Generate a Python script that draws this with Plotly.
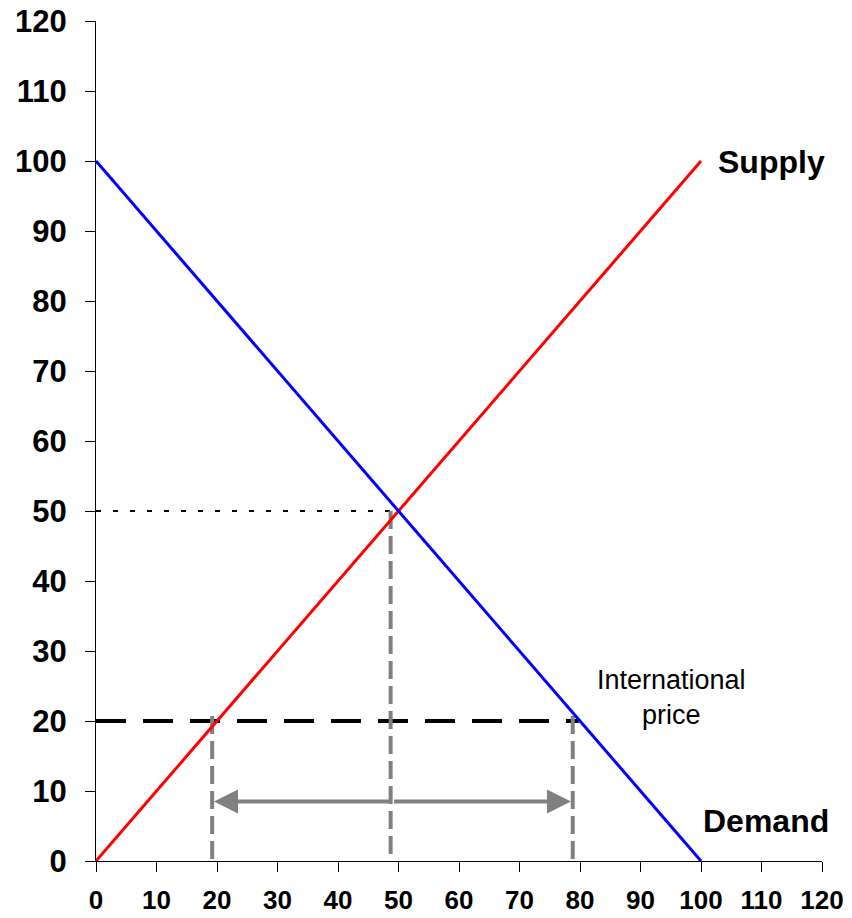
import plotly.graph_objects as go

supply_x = [0, 100]
supply_y = [0, 100]
demand_x = [0, 100]
demand_y = [100, 0]
world_price = 20
eq_q = 48.7
eq_p = 50
domestic_supply_q = 19.2
domestic_demand_q = 78.8
arrow_y = 8.5
x_ticks = list(range(0, 121, 10))
y_ticks = list(range(0, 121, 10))

FONT = "Liberation Sans, Arial, sans-serif"

fig = go.Figure()

# dotted line at equilibrium price
fig.add_trace(go.Scatter(x=[0, eq_q + 0.5], y=[eq_p, eq_p], mode="lines",
                         line=dict(color="black", width=2, dash="5px,12px"), hoverinfo="skip"))
# international price dashed line
fig.add_trace(go.Scatter(x=[0, domestic_demand_q + 1], y=[world_price, world_price], mode="lines",
                         line=dict(color="black", width=4, dash="30px,17px"), hoverinfo="skip"))
# gray dashed verticals
for q, top in [(domestic_supply_q, world_price + 0.7), (eq_q, eq_p), (domestic_demand_q, world_price + 0.7)]:
    fig.add_trace(go.Scatter(x=[q, q], y=[top, 0], mode="lines",
                             line=dict(color="#808080", width=4, dash="18px,7px"), hoverinfo="skip"))

fig.add_trace(go.Scatter(x=supply_x, y=supply_y, mode="lines",
                         line=dict(color="#ff0000", width=3), hoverinfo="skip"))
fig.add_trace(go.Scatter(x=demand_x, y=demand_y, mode="lines",
                         line=dict(color="#0000ff", width=3), hoverinfo="skip"))

# double arrow
for x0, x1 in [(domestic_supply_q + 0.3, domestic_demand_q - 0.3), (domestic_demand_q - 0.3, domestic_supply_q + 0.3)]:
    fig.add_annotation(x=x0, y=arrow_y, ax=(x0 + x1) / 2, ay=arrow_y, xref="x", yref="y",
                       axref="x", ayref="y", showarrow=True, arrowhead=2, arrowsize=1.2,
                       arrowwidth=4, arrowcolor="#808080", text="")

fig.add_annotation(x=100, y=100, xref="x", yref="y", text="<b>Supply</b>", showarrow=False,
                   xanchor="left", xshift=15, yshift=-1, font=dict(size=32, color="black", family=FONT))
fig.add_annotation(x=100, y=5.7, xref="x", yref="y", text="<b>Demand</b>", showarrow=False,
                   xanchor="left", xshift=0, yshift=0, font=dict(size=32, color="black", family=FONT))
fig.add_annotation(x=95.2, y=23.4, xref="x", yref="y", text="International<br>price", showarrow=False,
                   font=dict(size=27, color="black", family=FONT))

axis_common = dict(showgrid=False, zeroline=False, showline=True, linecolor="black", linewidth=1,
                   ticks="outside", ticklen=10, tickcolor="black", tickwidth=1,
                   range=[0, 120], automargin=False, ticklabeloverflow="allow")
fig.update_layout(
    width=852, height=918, showlegend=False,
    plot_bgcolor="white", paper_bgcolor="white",
    margin=dict(l=96, r=30, t=21, b=57),
    xaxis=dict(**axis_common, tickvals=x_ticks,
               tickfont=dict(size=26, color="black", family=FONT, weight="bold")),
    yaxis=dict(**axis_common, tickvals=y_ticks,
               tickfont=dict(size=31, color="black", family=FONT, weight="bold")),
)
fig.update_xaxes(ticklabelstandoff=6)
fig.update_yaxes(ticklabelstandoff=12)
fig.write_html("out.html", config={"displayModeBar": False},
               post_script="document.body.style.margin='0px';document.body.style.overflow='hidden';")
